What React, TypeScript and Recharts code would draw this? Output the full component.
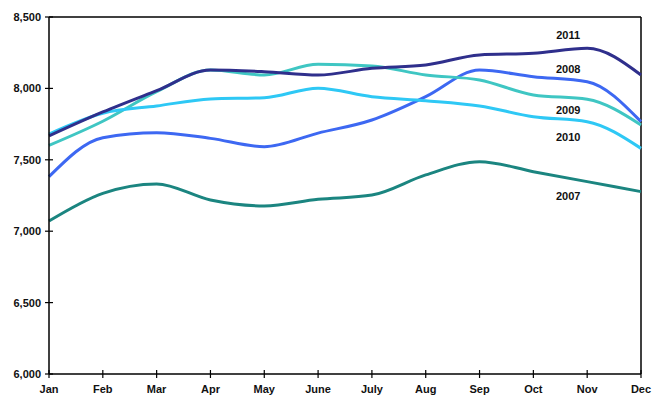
import { LineChart, Line, XAxis, YAxis, ReferenceLine, ReferenceDot } from "recharts";

const MONTHS = ["Jan", "Feb", "Mar", "Apr", "May", "June", "July", "Aug", "Sep", "Oct", "Nov", "Dec"];
const Y_TICKS = [6000, 6500, 7000, 7500, 8000, 8500];

const SALES_2007 = [7071, 7265, 7331, 7219, 7177, 7223, 7253, 7394, 7487, 7417, 7347, 7277];
const SALES_2008 = [7382, 7655, 7690, 7650, 7592, 7687, 7779, 7942, 8129, 8082, 8047, 7767];
const SALES_2009 = [7601, 7770, 7977, 8129, 8094, 8169, 8157, 8094, 8059, 7954, 7924, 7744];
const SALES_2010 = [7680, 7826, 7877, 7926, 7935, 8001, 7942, 7914, 7877, 7802, 7767, 7580];
const SALES_2011 = [7667, 7835, 7984, 8129, 8117, 8094, 8141, 8164, 8234, 8246, 8281, 8094];

const SERIES = [
  { key: "y2007", name: "2007", values: SALES_2007, color: "#1b8580", label: 7247 },
  { key: "y2008", name: "2008", values: SALES_2008, color: "#3d68f2", label: 8136 },
  { key: "y2009", name: "2009", values: SALES_2009, color: "#3fc6c3", label: 7849 },
  { key: "y2010", name: "2010", values: SALES_2010, color: "#2ec8f5", label: 7660 },
  { key: "y2011", name: "2011", values: SALES_2011, color: "#2f2f8c", label: 8374 },
];

const data = MONTHS.map((m, i) => {
  const row: Record<string, string | number> = { month: m };
  SERIES.forEach((s) => (row[s.key] = s.values[i]));
  return row;
});

const FONT = "'Liberation Sans', Arial, sans-serif";

// recharts hands the tick the text anchor (axis + 8px), so the crossing tick mark is drawn back from it
function XTick({ x, y, payload }: any) {
  return (
    <g>
      <line x1={x} x2={x} y1={y - 12} y2={y - 4} stroke="#000" strokeWidth={1.2} />
      <text x={x} y={y + 11} textAnchor="middle" fontSize={11} fontWeight="bold" fontFamily={FONT} fill="#111">
        {payload.value}
      </text>
    </g>
  );
}

function YTick({ x, y, payload }: any) {
  return (
    <g>
      <line x1={x + 4} x2={x + 12} y1={y} y2={y} stroke="#000" strokeWidth={1.2} />
      <text x={x} y={y + 4} textAnchor="end" fontSize={11} fontWeight="bold" fontFamily={FONT} fill="#111">
        {payload.value.toLocaleString("en-US")}
      </text>
    </g>
  );
}

export default function App() {
  return (
    <div style={{ position: "absolute", left: 0, top: 0, background: "#fff" }}>
      <LineChart width={670} height={403} data={data} margin={{ top: 17, right: 29, bottom: 0, left: 0 }}>
        <XAxis
          dataKey="month"
          axisLine={{ stroke: "#000", strokeWidth: 1.5 }}
          tickLine={false}
          tick={<XTick />}
          height={29}
          interval={0}
        />
        <YAxis
          domain={[6000, 8500]}
          ticks={Y_TICKS}
          axisLine={{ stroke: "#000", strokeWidth: 1.5 }}
          tickLine={false}
          tick={<YTick />}
          width={49}
        />
        <ReferenceLine y={8500} stroke="#000" strokeWidth={1.5} />
        <ReferenceLine x="Dec" stroke="#000" strokeWidth={1.5} />
        {SERIES.map((s) => (
          <Line
            key={s.key}
            dataKey={s.key}
            name={s.name}
            type="monotone"
            stroke={s.color}
            strokeWidth={3}
            dot={false}
            isAnimationActive={false}
          />
        ))}
        {SERIES.map((s) => (
          <ReferenceDot
            key={"lbl" + s.key}
            x="Nov"
            y={s.label}
            r={0}
            shape={(p: any) => (
              <text
                x={p.cx - 19}
                y={p.cy + 4}
                textAnchor="middle"
                fontSize={11}
                fontWeight="bold"
                fontFamily={FONT}
                fill="#111"
              >
                {s.name}
              </text>
            )}
          />
        ))}
      </LineChart>
    </div>
  );
}
